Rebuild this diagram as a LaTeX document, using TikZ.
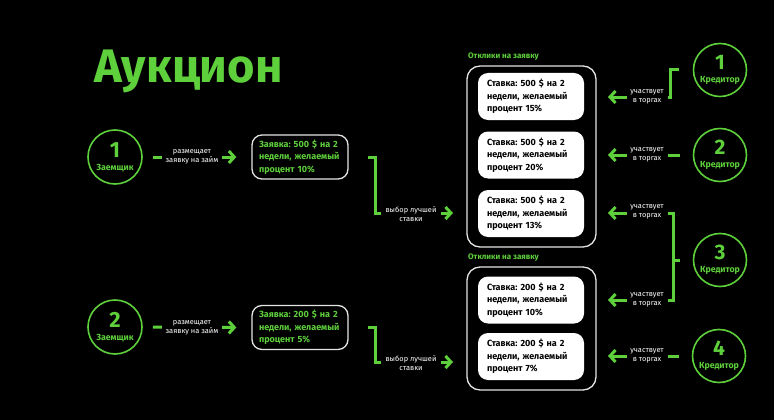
\documentclass[tikz,border=0pt]{standalone}
\usepackage{fontspec}
\setmainfont{Fira Sans}
\frenchspacing
\usetikzlibrary{arrows.meta}
\definecolor{grn}{RGB}{94,208,60}
\definecolor{edge}{RGB}{228,228,228}
\begin{document}
\begin{tikzpicture}[x=1pt,y=-1pt,
  gline/.style={draw=grn,line width=3pt},
  garrow/.style={gline,-{Straight Barb[length=5.5pt,width=12pt]}},
  lbl/.style={fill=black,text=white,font=\fontsize{7.4}{9.5}\selectfont,align=center,inner sep=1.5pt},
  circ/.style={circle,draw=grn,line width=1.6pt,minimum size=54pt,inner sep=0pt,text=grn,align=center,font=\bfseries},
  req/.style={draw=edge,line width=1.3pt,rounded corners=10pt,fill=black,text=grn,font=\bfseries\fontsize{9}{12.5}\selectfont,align=left,text width=82pt,minimum width=96pt,minimum height=44pt,inner xsep=7pt},
  bid/.style={fill=white,rounded corners=10pt,text=black,font=\bfseries\fontsize{9}{12.5}\selectfont,align=left,text width=88pt,inner xsep=9pt,minimum height=47pt},
  grp/.style={draw=edge,line width=1.3pt,rounded corners=13pt,minimum width=129pt,inner sep=0pt},
  glabel/.style={text=grn,font=\bfseries\fontsize{8}{9}\selectfont,anchor=west,inner sep=0pt},
]
\fill[black] (0,0) rectangle (774,420);
\useasboundingbox (0,0) rectangle (774,420);

\node[anchor=base west,text=grn,font=\bfseries\fontsize{47}{47}\selectfont,inner sep=0pt] (title) at (94,83) {Аукцион};

% borrowers
\node[circ] (b1) at (115,157) {{\fontsize{22}{22}\selectfont 1}\\[1pt]{\fontsize{8.8}{10}\selectfont Заемщик}};
\node[circ] (b2) at (115,327) {{\fontsize{22}{22}\selectfont 2}\\[1pt]{\fontsize{8.8}{10}\selectfont Заемщик}};

% requests
\node[req] (r1) at (300,157) {Заявка: 500 \$ на 2\\недели, желаемый\\процент 10\%};
\node[req] (r2) at (300,327.5) {Заявка: 200 \$ на 2\\недели, желаемый\\процент 5\%};

% groups
\node[grp,minimum height=181pt] (g1) at (531.5,156.5) {};
\node[grp,minimum height=123pt] (g2) at (531.5,328.5) {};
\node[glabel] (gl1) at (468,57) {Отклики на заявку};
\node[glabel] (gl2) at (468,258) {Отклики на заявку};

% bids
\node[bid] (s1) at (531,96.5) {Ставка: 500 \$ на 2\\недели, желаемый\\процент 15\%};
\node[bid] (s2) at (531,155) {Ставка: 500 \$ на 2\\недели, желаемый\\процент 20\%};
\node[bid] (s3) at (531,213.5) {Ставка: 500 \$ на 2\\недели, желаемый\\процент 13\%};
\node[bid] (s4) at (531,300) {Ставка: 200 \$ на 2\\недели, желаемый\\процент 10\%};
\node[bid] (s5) at (531,356.5) {Ставка: 200 \$ на 2\\недели, желаемый\\процент 7\%};

% creditors
\node[circ,minimum size=53pt] (c1) at (720,70) {{\fontsize{21}{21}\selectfont 1}\\[1pt]{\fontsize{8.8}{10}\selectfont Кредитор}};
\node[circ,minimum size=53pt] (c2) at (720,155) {{\fontsize{21}{21}\selectfont 2}\\[1pt]{\fontsize{8.8}{10}\selectfont Кредитор}};
\node[circ,minimum size=53pt] (c3) at (720,260) {{\fontsize{21}{21}\selectfont 3}\\[1pt]{\fontsize{8.8}{10}\selectfont Кредитор}};
\node[circ,minimum size=53pt] (c4) at (719,356) {{\fontsize{21}{21}\selectfont 4}\\[1pt]{\fontsize{8.8}{10}\selectfont Кредитор}};

% free ends
\coordinate (e1) at (453,213);
\coordinate (e2) at (453,362);
\coordinate (a1) at (608,97);
\coordinate (a2) at (608,155);
\coordinate (a3) at (608,213);
\coordinate (a4) at (608,300);
\coordinate (a5) at (608,356);
\coordinate (k3) at (673,260);

% borrower -> request
\draw[garrow] ([xshift=10pt]b1.east) -- ([xshift=-15pt]r1.west);
\node[lbl,minimum width=60pt] (l1) at (192,157) {размещает\\заявку на займ};
\draw[garrow] ([xshift=10pt]b2.east) -- ([xshift=-15pt]r2.west);
\node[lbl,minimum width=60pt] (l2) at (192,328) {размещает\\заявку на займ};

% request -> responses
\draw[garrow] ([xshift=19pt]r1.east) -- ++(8,0) |- (e1);
\node[lbl,minimum width=60pt] (l3) at (411,214) {выбор лучшей\\ставки};
\draw[garrow] ([xshift=19pt]r2.east) -- ++(8,0) |- (e2);
\node[lbl,minimum width=60pt] (l4) at (411,363) {выбор лучшей\\ставки};

% creditors -> bids
\draw[garrow] ([xshift=-14pt]c1.west) -- ++(-8,0) |- (a1);
\node[lbl,minimum width=41pt] (m1) at (647,97) {участвует\\в торгах};
\draw[garrow] ([xshift=-13pt]c2.west) -- (a2);
\node[lbl,minimum width=41pt] (m2) at (647,155) {участвует\\в торгах};
\draw[gline] ([xshift=-13pt]c3.west) -- (k3);
\draw[garrow] (k3) |- (a3);
\draw[garrow] (k3) |- (a4);
\node[lbl,minimum width=41pt] (m3) at (647,212) {участвует\\в торгах};
\node[lbl,minimum width=41pt] (m4) at (647,300) {участвует\\в торгах};
\draw[garrow] ([xshift=-13pt]c4.west) -- (a5);
\node[lbl,minimum width=41pt] (m5) at (647,356) {участвует\\в торгах};
\end{tikzpicture}
\end{document}
